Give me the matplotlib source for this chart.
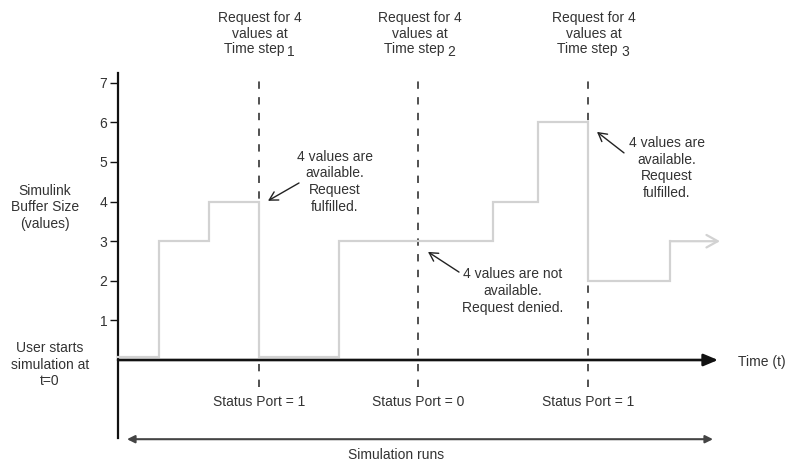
import matplotlib
matplotlib.use("Agg")
import matplotlib.pyplot as plt

plt.rcParams['font.family'] = ['Liberation Sans', 'DejaVu Sans']
plt.rcParams['lines.scale_dashes'] = False

# ---- data ----
step_times = [0, 4.1, 9.1, 14.1, 22.1, 37.5, 42.0, 47.0, 55.2]
step_values = [0.07, 3, 4, 0.07, 3, 4, 6, 2, 3]
end_time = 60.2
request_times = [14.1, 30.0, 47.0]
request_steps = ['1', '2', '3']
status_values = [1, 0, 1]
y_ticks = [1, 2, 3, 4, 5, 6, 7]

TXT = '#333333'
FS = 10

fig = plt.figure(figsize=(7.85, 4.61), dpi=100)
ax = fig.add_axes([0, 0, 1, 1])
ax.set_xlim(-11.8, 66.7)
ax.set_ylim(-2.5505, 9.0909)
for s in ['top', 'right', 'bottom']:
    ax.spines[s].set_visible(False)
ax.spines['left'].set_position(('data', 0))
ax.spines['left'].set_bounds(-1.97, 7.25)
ax.spines['left'].set_linewidth(1.6)
ax.spines['left'].set_color('#111111')
ax.set_xticks([])
ax.set_yticks(y_ticks)
ax.tick_params(axis='y', direction='out', length=5.8, width=1.0, pad=2,
               labelsize=FS, labelcolor=TXT, color='#111111')
ax.patch.set_alpha(0)

# dashed request lines
for t in request_times:
    ax.plot([t, t], [-0.68, 7.05], color='#333333', lw=1.2, dashes=(5.3, 6.0), zorder=2)

# buffer step line
ax.plot(step_times + [step_times[-1]], step_values + [step_values[-1]],
        drawstyle='steps-post', color='#d2d2d2', lw=1.6, zorder=3, solid_joinstyle='miter')
ax.annotate('', xy=(end_time, step_values[-1]), xytext=(step_times[-1], step_values[-1]),
            arrowprops=dict(arrowstyle='->,head_length=0.45,head_width=0.25', color='#d2d2d2',
                            lw=1.6, shrinkA=0, shrinkB=0, mutation_scale=18), zorder=3)

# time axis
ax.annotate('', xy=(60.0, 0), xytext=(0, 0),
            arrowprops=dict(arrowstyle='-|>,head_length=1.0,head_width=0.42', color='#111111',
                            lw=1.9, shrinkA=0, shrinkB=0, mutation_scale=8.6), zorder=4)
ax.text(62.0, -0.05, 'Time (t)', fontsize=FS, color=TXT, ha='left', va='center')

# simulation runs arrow
ax.annotate('', xy=(59.5, -2.0), xytext=(0.9, -2.0),
            arrowprops=dict(arrowstyle='<|-|>,head_length=0.9,head_width=0.45', color='#444444',
                            lw=1.5, shrinkA=0, shrinkB=0, mutation_scale=5), zorder=4)
ax.text(27.8, -2.40, 'Simulation runs', fontsize=FS, color=TXT, ha='center', va='center')

# headers
header_centers = [14.2, 30.2, 47.55]
for c, k in zip(header_centers, request_steps):
    ax.text(c, 8.64, 'Request for 4', fontsize=FS, color=TXT, ha='center', va='center')
    ax.text(c, 8.23, 'values at', fontsize=FS, color=TXT, ha='center', va='center')
    ax.text(c + 2.4, 7.85, 'Time step', fontsize=FS, color=TXT, ha='right', va='center')
    ax.text(c + 2.75, 7.77, k, fontsize=FS, color=TXT, ha='left', va='center')

# status port labels
for t, s in zip(request_times, status_values):
    ax.text(t, -1.06, f'Status Port = {s}', fontsize=FS, color=TXT, ha='center', va='center')

# left labels
for v, line in zip([4.27, 3.86, 3.43], ['Simulink', 'Buffer Size', '(values)']):
    ax.text(-7.3, v, line, fontsize=FS, color=TXT, ha='center', va='center')
for v, line in zip([0.30, -0.13, -0.53], ['User starts', 'simulation at', 't=0']):
    ax.text(-6.8, v, line, fontsize=FS, color=TXT, ha='center', va='center')

# annotations
def note(cx, vs, lines, head, tail):
    for v, line in zip(vs, lines):
        ax.text(cx, v, line, fontsize=FS, color=TXT, ha='center', va='center')
    ax.annotate('', xy=head, xytext=tail,
                arrowprops=dict(arrowstyle='->,head_length=0.5,head_width=0.28', color='#222222',
                                lw=1.0, shrinkA=0, shrinkB=0, mutation_scale=12))

note(21.7, [5.13, 4.72, 4.29, 3.86], ['4 values are', 'available.', 'Request', 'fulfilled.'],
     (15.0, 4.02), (18.1, 4.47))
note(39.5, [2.17, 1.74, 1.31], ['4 values are not', 'available.', 'Request denied.'],
     (31.0, 2.73), (34.1, 2.22))
note(54.9, [5.48, 5.05, 4.65, 4.22], ['4 values are', 'available.', 'Request', 'fulfilled.'],
     (47.9, 5.76), (50.6, 5.23))

fig.savefig('out.png', dpi=100)
